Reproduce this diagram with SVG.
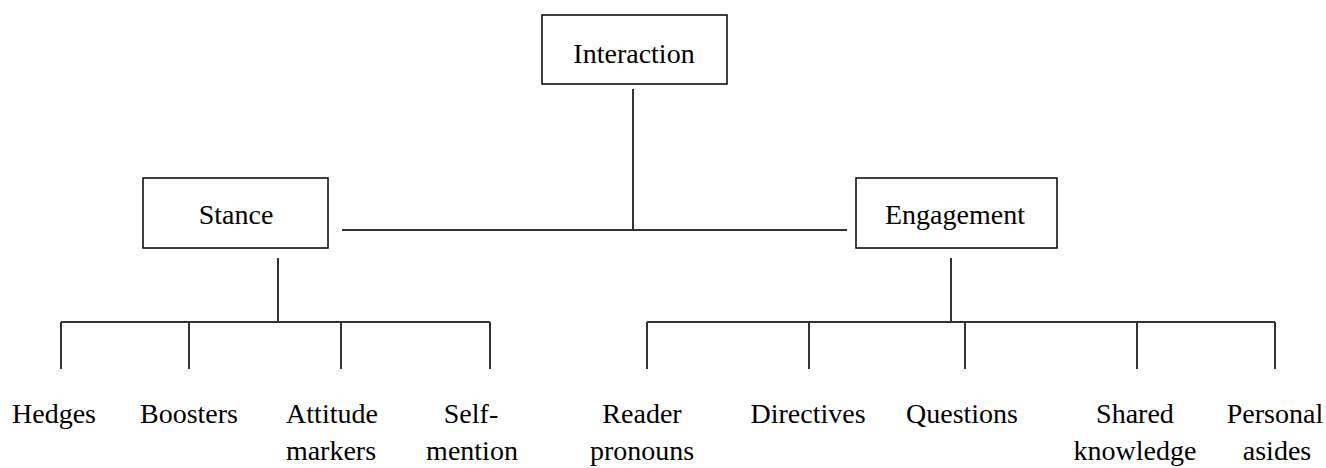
<svg xmlns="http://www.w3.org/2000/svg" width="1326" height="468" viewBox="0 0 1326 468">
<style>
.box{fill:#fff;stroke:#000;stroke-width:1.5}
.ln{stroke:#333;stroke-width:2;fill:none}
.t{font-size:28px;fill:#000;text-anchor:middle}
</style>
<rect width="1326" height="468" fill="#fff"/>
<g id="connectors">
<line class="ln" x1="633" y1="89" x2="633" y2="230"/>
<line class="ln" x1="342" y1="230" x2="847" y2="230"/>
<line class="ln" x1="278" y1="258" x2="278" y2="322"/>
<line class="ln" x1="61" y1="322" x2="490" y2="322"/>
<line class="ln" x1="61" y1="322" x2="61" y2="369"/>
<line class="ln" x1="189" y1="322" x2="189" y2="369"/>
<line class="ln" x1="341" y1="322" x2="341" y2="369"/>
<line class="ln" x1="490" y1="322" x2="490" y2="369"/>
<line class="ln" x1="951" y1="258" x2="951" y2="322"/>
<line class="ln" x1="647" y1="322" x2="1275" y2="322"/>
<line class="ln" x1="647" y1="322" x2="647" y2="369"/>
<line class="ln" x1="809" y1="322" x2="809" y2="369"/>
<line class="ln" x1="965" y1="322" x2="965" y2="369"/>
<line class="ln" x1="1137" y1="322" x2="1137" y2="369"/>
<line class="ln" x1="1275" y1="322" x2="1275" y2="369"/>
</g>
<g class="t" font-family="Liberation Serif, Times New Roman, DejaVu Serif, serif">
<g id="interaction"><rect class="box" x="542" y="15" width="185" height="69"/><text x="634" y="63">Interaction</text></g>
<g id="stance"><rect class="box" x="143" y="178" width="185" height="70"/><text x="236" y="224">Stance</text></g>
<g id="engagement"><rect class="box" x="856" y="178" width="201" height="70"/><text x="955" y="224">Engagement</text></g>
<g id="hedges"><text x="54" y="423">Hedges</text></g>
<g id="boosters"><text x="189" y="423">Boosters</text></g>
<g id="attitude"><text x="332" y="423">Attitude</text><text x="331" y="460">markers</text></g>
<g id="selfmention"><text x="471" y="423">Self-</text><text x="472" y="460">mention</text></g>
<g id="reader"><text x="642" y="423">Reader</text><text x="642" y="460">pronouns</text></g>
<g id="directives"><text x="808" y="423">Directives</text></g>
<g id="questions"><text x="962" y="423">Questions</text></g>
<g id="shared"><text x="1135" y="423">Shared</text><text x="1135" y="460">knowledge</text></g>
<g id="personal"><text x="1275" y="423">Personal</text><text x="1277" y="460">asides</text></g>
</g>
</svg>
